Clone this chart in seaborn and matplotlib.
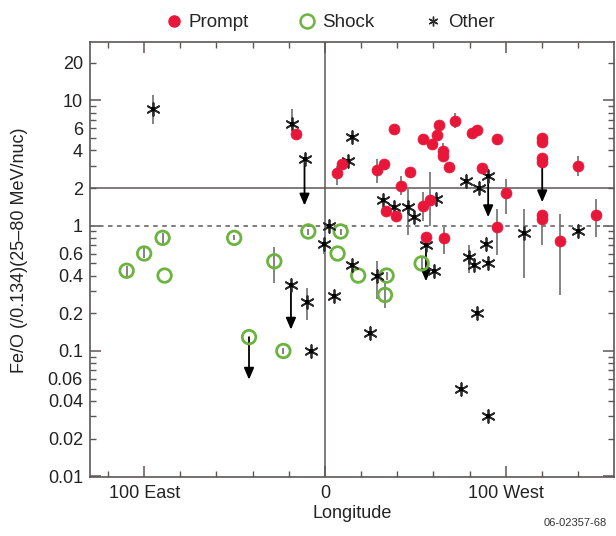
import numpy as np
import pandas as pd
import matplotlib
matplotlib.use('Agg')
import matplotlib.pyplot as plt
import seaborn as sns
from matplotlib.lines import Line2D
from matplotlib.ticker import FixedLocator, FuncFormatter

# ==========================================
# Data
# ==========================================
prompt_lon = [-16.0, 6.8, 9.2, 28.9, 32.8, 38.2, 41.9, 47.0, 54.0, 59.0, 61.8, 63.2,
              65.1, 65.1, 71.9, 68.8, 81.1, 84.2, 95.0, 87.0, 99.9, 120.0, 120.0,
              120.0, 120.0, 140.1, 33.7, 39.1, 54.0, 58.1, 55.9, 65.8, 95.0, 120.0,
              120.0, 130.0, 150.0]
prompt_feo = [5.44, 2.63, 3.10, 2.80, 3.10, 5.89, 2.09, 2.67, 4.90, 4.48, 5.28, 6.37,
              3.96, 3.57, 6.85, 2.92, 5.54, 5.81, 4.90, 2.89, 1.82, 5.0, 4.7,
              3.45, 3.2, 2.98, 1.30, 1.19, 1.45, 1.59, 0.82, 0.80, 0.98, 1.21,
              1.13, 0.76, 1.22]

shock_lon = [-109.7, -100.0, -89.8, -88.7, -50.2, -28.0, -9.2, -42.0, -23.0,
             8.7, 7.0, 18.4, 34.1, 33.2, 53.5]
shock_feo = [0.437, 0.60, 0.80, 0.40, 0.80, 0.52, 0.90, 0.129, 0.10,
             0.90, 0.60, 0.40, 0.40, 0.28, 0.50]

other_lon = [-95.0, -18.1, -11.3, -18.8, -9.8, -7.9, -0.6, 2.4, 5.0, 12.5, 14.8,
             14.8, 24.9, 28.9, 32.2, 38.3, 46.1, 49.2, 61.2, 55.9, 60.3, 78.0,
             85.2, 90.3, 79.8, 82.6, 90.3, 89.0, 83.9, 75.0, 90.3, 110.2, 140.1]
other_feo = [8.6, 6.53, 3.40, 0.336, 0.248, 0.10, 0.71, 1.0, 0.277, 3.30, 5.15,
             0.49, 0.139, 0.40, 1.59, 1.41, 1.41, 1.17, 1.64, 0.70, 0.434, 2.29,
             2.0, 2.51, 0.56, 0.49, 0.50, 0.71, 0.20, 0.050, 0.030, 0.875, 0.91]

# vertical error bars: longitude, low, high
err_lon = [6.8, 28.9, 41.9, 54.0, 58.1, 65.1, 71.9, 65.8, 95.0, 99.9, 120.0, 130.0,
           140.1, 150.0,
           -109.7, -100.0, -89.8, -50.2, -28.0, -9.2, -23.0, 8.7, 34.1, 33.2, 53.5,
           -95.0, -18.1, -9.8, -0.6, 28.9, 46.1, 79.8, 110.2]
err_lo = [2.1, 2.2, 1.75, 1.1, 1.0, 3.3, 6.0, 0.6, 0.58, 1.25, 0.70, 0.28,
          2.5, 0.82,
          0.40, 0.55, 0.72, 0.77, 0.35, 0.85, 0.094, 0.85, 0.37, 0.22, 0.45,
          6.5, 6.0, 0.177, 0.6, 0.26, 0.84, 0.42, 0.38]
err_hi = [3.0, 3.4, 2.5, 1.86, 2.67, 4.6, 8.0, 0.98, 1.36, 2.36, 1.21, 1.25,
          3.6, 1.64,
          0.48, 0.66, 0.88, 0.84, 0.68, 0.95, 0.106, 0.95, 0.43, 0.36, 0.56,
          11.0, 8.5, 0.316, 0.75, 0.52, 1.97, 0.70, 1.36]

# upper limits drawn as arrows: longitude, start, end
arrow_lon = [-11.3, -18.8, -42.0, 55.9, 90.3, 120.2]
arrow_top = [3.40, 0.336, 0.129, 0.70, 2.51, 3.3]
arrow_end = [1.45, 0.148, 0.059, 0.36, 1.17, 1.54]

ytick_vals = [20, 10, 6, 4, 2, 1, 0.6, 0.4, 0.2, 0.1, 0.06, 0.04, 0.02, 0.01]
xtick_vals = [-100, 0, 100]
xtick_labels = ['100 East', '0', '100 West']

prompt_df = pd.DataFrame({'lon': prompt_lon, 'feo': prompt_feo})
shock_df = pd.DataFrame({'lon': shock_lon, 'feo': shock_feo})
other_df = pd.DataFrame({'lon': other_lon, 'feo': other_feo})

# ==========================================
# Plot
# ==========================================
sns.set_style('ticks')
plt.rcParams['font.family'] = ['Liberation Sans', 'DejaVu Sans']

red = '#e8173a'
green = '#6cb33f'
dark = '#2a2a2a'
frame = '#5e5656'

fig = plt.figure(figsize=(6.16, 5.36), dpi=100)
ax = fig.add_axes([0.146, 0.110, 0.851, 0.812])
ax.set_yscale('log')
ax.set_xlim(-130, 160)
ax.set_ylim(0.00985, 29.4)

# reference lines
ax.axhline(2, color=frame, lw=1.1, zorder=1)
ax.axhline(1, color='#777070', lw=1.3, ls=(0, (2.5, 2.5)), zorder=1)
ax.axvline(0, color=frame, lw=1.1, zorder=1)

# error bars and arrows
ax.vlines(err_lon, err_lo, err_hi, color='#7a7a7a', lw=1.3, zorder=2)
for lon, top, end in zip(arrow_lon, arrow_top, arrow_end):
    ax.annotate('', xy=(lon, end), xytext=(lon, top),
                arrowprops=dict(arrowstyle='-|>,head_width=0.3,head_length=0.7',
                                color='black', lw=1.3, shrinkA=0, shrinkB=0),
                zorder=2)

sns.scatterplot(data=shock_df, x='lon', y='feo', ax=ax, marker='o', s=95,
                facecolor='none', edgecolor=green, linewidth=2.0, zorder=3)
sns.scatterplot(data=other_df, x='lon', y='feo', ax=ax, marker=(6, 2, 0), s=85,
                color=dark, edgecolor=dark, linewidth=1.3, zorder=3)
sns.scatterplot(data=other_df, x='lon', y='feo', ax=ax, marker='s', s=8,
                color='black', linewidth=0, zorder=4)
sns.scatterplot(data=prompt_df, x='lon', y='feo', ax=ax, marker='o', s=62,
                color=red, edgecolor=red, linewidth=0.5, zorder=5)

# axes styling
for sp in ax.spines.values():
    sp.set_color(frame)
    sp.set_linewidth(1.2)
ax.xaxis.set_major_locator(FixedLocator(xtick_vals))
ax.xaxis.set_minor_locator(FixedLocator(np.arange(-120, 160, 20)))
ax.set_xticklabels(xtick_labels)
ax.yaxis.set_major_locator(FixedLocator([0.01, 0.1, 1, 10]))
minor_y = [m * 10.0 ** e for e in range(-2, 2) for m in range(2, 10)]
ax.yaxis.set_minor_locator(FixedLocator(minor_y))
fmt = FuncFormatter(lambda v, p: ('%g' % v) if any(abs(v - t) < 1e-9 for t in ytick_vals) else '')
ax.yaxis.set_major_formatter(fmt)
ax.yaxis.set_minor_formatter(fmt)
ax.tick_params(which='both', direction='in', top=True, right=True, color=frame,
               labelsize=13, labelcolor='#222222')
ax.tick_params(which='major', length=8, width=1.1)
ax.tick_params(which='minor', length=4, width=1.0)
ax.tick_params(axis='x', which='major', pad=6)
ax.tick_params(axis='y', which='both', pad=5)

ax.set_xlabel('Longitude', fontsize=13, color='#222222', labelpad=2)
ax.set_ylabel('Fe/O (/0.134)(25\u201380 MeV/nuc)', fontsize=13, color='#222222')
ax.yaxis.set_label_coords(-0.118, 0.52)

handles = [
    Line2D([], [], marker='o', ls='', color=red, markersize=8),
    Line2D([], [], marker='o', ls='', markerfacecolor='none', markeredgecolor=green,
           markeredgewidth=1.8, markersize=10),
    Line2D([], [], marker=(6, 2, 0), ls='', color=dark, markersize=7),
]
fig.legend(handles, ['Prompt', 'Shock', 'Other'], loc='upper center',
           bbox_to_anchor=(0.535, 1.005), ncol=3, frameon=False, fontsize=13.5,
           handletextpad=0.3, columnspacing=2.6, handlelength=1.0)

fig.text(0.985, 0.015, '06-02357-68', ha='right', va='bottom', fontsize=8,
         color='#333333')

fig.savefig('out.png', dpi=100)
